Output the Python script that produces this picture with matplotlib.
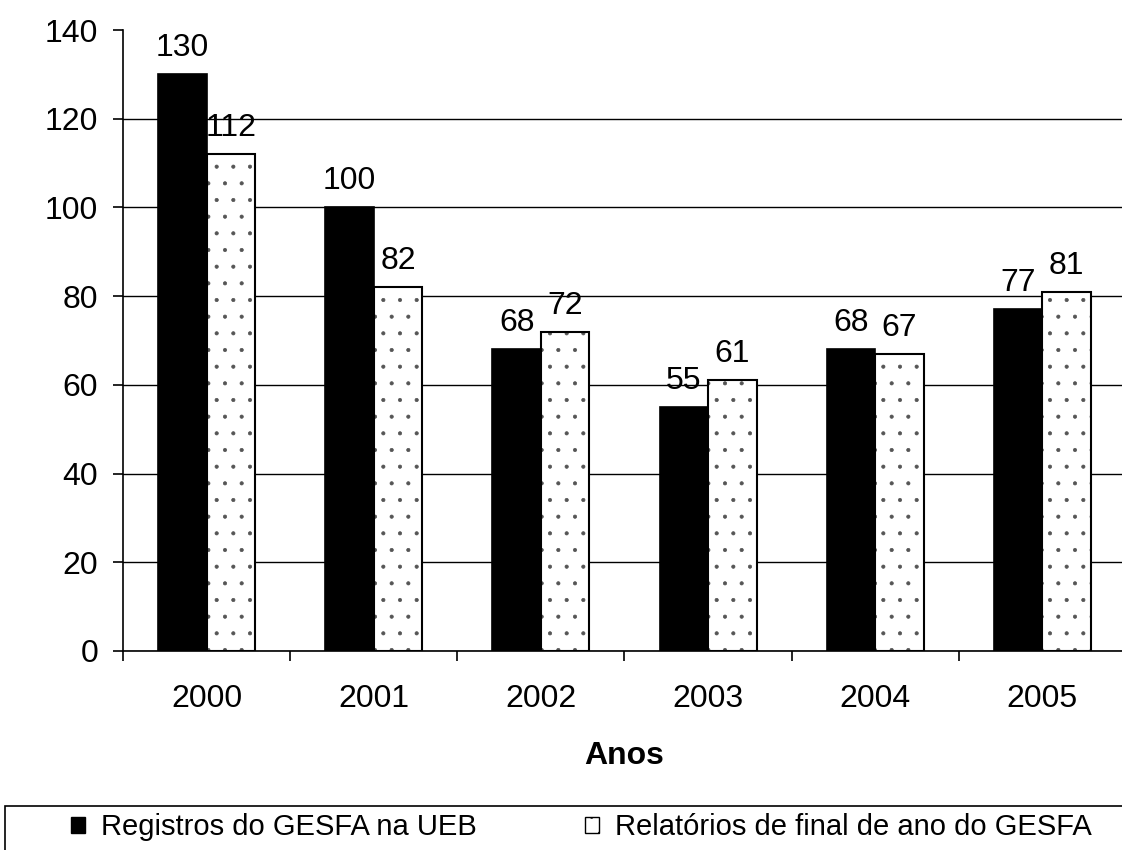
import numpy as np
import matplotlib.pyplot as plt
from matplotlib.patches import Rectangle

plt.rcParams['font.family'] = ['Liberation Sans', 'DejaVu Sans']
plt.rcParams['hatch.color'] = '#555555'
plt.rcParams['hatch.linewidth'] = 0.5

# dados
anos = ['2000', '2001', '2002', '2003', '2004', '2005']
registros = [130, 100, 68, 55, 68, 77]
relatorios = [112, 82, 72, 61, 67, 81]
yticks = [0, 20, 40, 60, 80, 100, 120, 140]

W, H = 1122, 850
fig = plt.figure(figsize=(W / 100, H / 100), dpi=100)
ax = fig.add_axes([123 / W, 199 / H, 1003 / W, 621 / H])

x = np.arange(len(anos))
w = 0.29
fs = 23

b1 = ax.bar(x - w / 2, registros, w, color='black', edgecolor='black', linewidth=1.2, zorder=3)
# pontilhado: fundo com hatch, depois contorno preto por cima
ax.bar(x + w / 2, relatorios, w, color='white', edgecolor='#555555', hatch='.', linewidth=0, zorder=3)
b2 = ax.bar(x + w / 2, relatorios, w, fill=False, edgecolor='black', linewidth=1.5, zorder=4)

ax.bar_label(b1, labels=[str(v) for v in registros], padding=8, fontsize=fs)
ax.bar_label(b2, labels=[str(v) for v in relatorios], padding=8, fontsize=fs)

ax.set_xlim(-0.5, len(anos) - 0.5)
ax.set_ylim(0, 140)
ax.set_yticks(yticks)
ax.set_yticklabels([str(v) for v in yticks], fontsize=fs)
ax.set_xticks(x)
ax.set_xticklabels(anos, fontsize=fs)
ax.set_xticks(np.arange(-0.5, len(anos), 1), minor=True)
ax.tick_params(axis='x', which='major', length=0, pad=24)
ax.tick_params(axis='x', which='minor', length=7, width=1.2, direction='out')
ax.tick_params(axis='y', length=7, width=1.2, direction='out', pad=11)

ax.yaxis.grid(True, color='black', linewidth=1.0, zorder=0)
ax.set_axisbelow(True)
ax.get_ygridlines()[-1].set_visible(False)
for s in ['top', 'right']:
    ax.spines[s].set_visible(False)
ax.spines['left'].set_linewidth(1.2)
ax.spines['bottom'].set_linewidth(1.2)

ax.set_xlabel('Anos', fontsize=fs, fontweight='bold', labelpad=19)

# caixa da legenda
fig.patches.append(Rectangle((5 / W, -0.05), 1.1, (850 - 806) / H + 0.05,
                             transform=fig.transFigure, fill=False,
                             edgecolor='black', linewidth=1.2))
h1 = Rectangle((0, 0), 1, 1, facecolor='black', edgecolor='black')
h2 = Rectangle((0, 0), 1, 1, facecolor='white', edgecolor='black', hatch='.')
fig.legend([h1, h2], ['Registros do GESFA na UEB', 'Relatórios de final de ano do GESFA'],
           loc='center left', bbox_to_anchor=(71 / W, 1 - 827 / H), ncol=2,
           frameon=False, fontsize=21, handlelength=0.48, handleheight=0.48,
           handletextpad=0.55, columnspacing=3.7, borderpad=0, borderaxespad=0)

fig.savefig('out.png', dpi=100)
